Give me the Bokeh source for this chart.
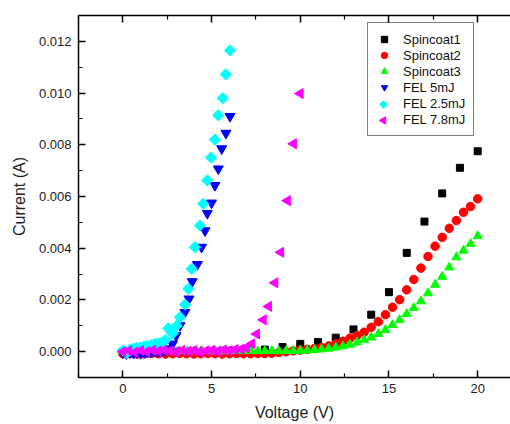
import math
from bokeh.plotting import figure
from bokeh.models import (LinearAxis, FixedTicker, PrintfTickFormatter, Range1d,
                          Legend, LegendItem)
from bokeh.embed import file_html
from bokeh.resources import INLINE

# ---- data ----
v_spin1 = [0, 1, 2, 3, 4, 5, 6, 7, 8, 9, 10, 11, 12, 13, 14, 15, 16, 17, 18, 19, 20]
i_spin1 = [0.0, 0.0, 0.0, 0.0, 0.0, 0.00001, 0.00002, 0.00004, 0.00008, 0.00018,
           0.00030, 0.00037, 0.00054, 0.00086, 0.00143, 0.00230, 0.00382, 0.00503,
           0.00612, 0.00711, 0.00775]

v_spin2 = [0.0, 0.4, 0.8, 1.2, 1.6, 2.0, 2.4, 2.8, 3.2, 3.6, 4.0, 4.4, 4.8, 5.2, 5.6,
           6.0, 6.4, 6.8, 7.2, 7.6, 8.0, 8.4, 8.8, 9.2, 9.6, 10.0, 10.4, 10.8, 11.2,
           11.6, 12.0, 12.4, 12.8, 13.2, 13.6, 14.0, 14.4, 14.8, 15.2, 15.6, 16.0,
           16.4, 16.8, 17.2, 17.6, 18.0, 18.4, 18.8, 19.2, 19.6, 20.0]
i_spin2 = [-0.00008, -0.00007, -0.00009, -0.00008, -0.00007, -0.00008, -0.00009,
           -0.00008, -0.00007, -0.00008, -0.00009, -0.00008, -0.00007, -0.00008,
           -0.00009, -0.00008, -0.00007, -0.00008, -0.00008, -0.00007, -0.00007,
           -0.00006, -0.00003, 0.0, 0.00003, 0.00006, 0.00009, 0.00012, 0.00016,
           0.00022, 0.00030, 0.00040, 0.00052, 0.00062, 0.00075, 0.00094, 0.00116,
           0.00143, 0.00172, 0.00201, 0.00239, 0.00279, 0.00323, 0.00368, 0.00408,
           0.00442, 0.00477, 0.00507, 0.00539, 0.00561, 0.00591]

v_spin3 = v_spin2
i_spin3 = [0.00002, 0.00001, 0.00002, 0.00003, 0.00002, 0.00001, 0.00002, 0.00003,
           0.00002, 0.00001, 0.00002, 0.00003, 0.00002, 0.00002, 0.00001, 0.00002,
           0.00003, 0.00002, 0.00003, 0.00002, 0.00003, 0.00003, 0.00002, 0.00003,
           0.00003, 0.00004, 0.00005, 0.00007, 0.00009, 0.00012, 0.00016, 0.00021,
           0.00027, 0.00036, 0.00045, 0.00055, 0.00069, 0.00084, 0.00103, 0.00123,
           0.00146, 0.00169, 0.00195, 0.00226, 0.00259, 0.00290, 0.00326, 0.00365,
           0.00391, 0.00417, 0.00447]

v_fel5 = [0.0, 0.2, 0.4, 0.6, 0.8, 1.0, 1.2, 1.4, 1.6, 1.8, 2.0, 2.2, 2.4, 2.6, 2.8,
          3.0, 3.22, 3.5, 3.73, 3.91, 4.2, 4.44, 4.63, 4.76, 5.0, 5.19, 5.38, 5.57,
          5.81, 6.04]
i_fel5 = [-0.00005, -0.00008, -0.00004, -0.00006, -0.00003, -0.00007, -0.00004,
          -0.00002, 0.0, 0.00001, 0.00002, 0.00003, 0.00005, 0.00012, 0.00030,
          0.00062, 0.00101, 0.00152, 0.00204, 0.00271, 0.00337, 0.00404, 0.00468,
          0.00535, 0.00575, 0.00643, 0.00707, 0.00785, 0.00845, 0.00910]

v_fel25 = [0.0, 0.2, 0.4, 0.6, 0.8, 1.0, 1.2, 1.4, 1.6, 1.8, 2.0, 2.2, 2.4, 2.56, 2.8,
           3.03, 3.22, 3.5, 3.69, 3.88, 4.06, 4.34, 4.53, 4.76, 4.97, 5.19, 5.38,
           5.63, 5.8, 6.04]
i_fel25 = [0.00005, -0.00005, 0.00008, 0.00012, 0.00015, 0.00016, 0.00020, 0.00022,
           0.00025, 0.00030, 0.00032, 0.00036, 0.00045, 0.00090, 0.00070, 0.00100,
           0.00133, 0.00182, 0.00243, 0.00320, 0.00404, 0.00488, 0.00572, 0.00662,
           0.00750, 0.00820, 0.00914, 0.00980, 0.01072, 0.01165]

v_fel78 = [0.0, 0.33, 0.67, 1.0, 1.33, 1.67, 2.0, 2.33, 2.67, 3.0, 3.33, 3.67, 4.0,
           4.33, 4.67, 5.0, 5.33, 5.67, 6.0, 6.33, 6.67, 6.95, 7.26, 7.54, 7.92,
           8.22, 8.57, 8.9, 9.28, 9.62, 10.0]
i_fel78 = [0.0, 0.00003, -0.00002, 0.00004, 0.0, 0.00005, 0.00002, 0.00006, 0.00003,
           0.0, 0.00005, 0.00002, 0.00004, 0.0, 0.00003, 0.00005, 0.00002, 0.00006,
           0.00004, 0.00008, 0.00010, 0.00015, 0.00030, 0.00068, 0.00123, 0.00175,
           0.00266, 0.00384, 0.00584, 0.00804, 0.00998]

series_labels = ["Spincoat1", "Spincoat2", "Spincoat3", "FEL 5mJ", "FEL 2.5mJ",
                 "FEL 7.8mJ"]

x_ticks = [0, 5, 10, 15, 20]
x_minor = [-2.5, 2.5, 7.5, 12.5, 17.5]
y_ticks = [0.0, 0.002, 0.004, 0.006, 0.008, 0.010, 0.012]
y_minor = [-0.001, 0.001, 0.003, 0.005, 0.007, 0.009, 0.011]

FONT = "Liberation Sans"

# layout constants
W, H = 510, 424
BL, BR, BT, BB = 78, 0, 15, 47
FW, FH = W - BL - BR, H - BT - BB

p = figure(width=W, height=H, output_backend="svg", toolbar_location=None,
           x_range=Range1d(-2.5, 21.85), y_range=Range1d(-0.001, 0.013),
           min_border_left=BL, min_border_right=BR, min_border_top=BT,
           min_border_bottom=BB, x_axis_label="Voltage (V)",
           y_axis_label="Current (A)")
p.outline_line_color = None
p.grid.visible = False
p.background_fill_color = "white"
p.border_fill_color = "white"
# pixel-space ranges for the legend key symbols
p.extra_x_ranges = {"px": Range1d(0, FW)}
p.extra_y_ranges = {"py": Range1d(0, FH)}

for ax in (p.xaxis[0], p.yaxis[0]):
    ax.axis_line_width = 1.5
    ax.major_tick_line_width = 1.5
    ax.minor_tick_line_width = 1.2
    ax.major_tick_in = 7
    ax.major_tick_out = 0
    ax.minor_tick_in = 4
    ax.minor_tick_out = 0
    ax.major_label_text_font = FONT
    ax.major_label_text_font_size = "13px"
    ax.major_label_text_color = "#222222"
    ax.axis_label_text_font = FONT
    ax.axis_label_text_font_size = "16px"
    ax.axis_label_text_font_style = "normal"
    ax.axis_label_text_color = "#222222"

p.xaxis[0].ticker = FixedTicker(ticks=x_ticks, minor_ticks=x_minor)
p.yaxis[0].ticker = FixedTicker(ticks=y_ticks, minor_ticks=y_minor)
p.yaxis[0].formatter = PrintfTickFormatter(format="%.3f")
p.xaxis[0].major_label_standoff = 6
p.xaxis[0].axis_label_standoff = 8
p.yaxis[0].major_label_standoff = 7
p.yaxis[0].axis_label_standoff = 8

top = LinearAxis(ticker=FixedTicker(ticks=x_ticks, minor_ticks=x_minor),
                 axis_line_width=1.5, major_tick_line_width=1.5,
                 minor_tick_line_width=1.2, major_tick_in=7, major_tick_out=0,
                 minor_tick_in=4, minor_tick_out=0,
                 major_label_text_font_size="1px", major_label_text_alpha=0,
                 major_label_standoff=0)
p.add_layout(top, "above")

r1 = p.scatter(v_spin1, i_spin1, marker="square", size=7, color="#000000")
r2 = p.scatter(v_spin2, i_spin2, marker="circle", size=8.5, color="#ff0000")
r3 = p.scatter(v_spin3, i_spin3, marker="triangle", size=9, color="#00ff00")
r4 = p.scatter(v_fel5, i_fel5, marker="inverted_triangle", size=10, color="#0000ff")
r5 = p.scatter(v_fel25, i_fel25, marker="square", angle=math.pi / 4, size=8,
               color="#00ffff")
r6 = p.scatter(v_fel78, i_fel78, marker="triangle", angle=math.pi / 2, size=10,
               color="#ff00ff")

# invisible stand-ins so the legend reserves the rows of the rotated markers
r5_key = p.scatter(v_fel25[:1], i_fel25[:1], marker="square", size=1, alpha=0)
r6_key = p.scatter(v_fel78[:1], i_fel78[:1], marker="square", size=1, alpha=0)

LEG_X, LEG_Y = 289, 241
PAD, ROW, GW = 8, 16, 16
n_items = len(series_labels)
legend = Legend(items=[
    LegendItem(label=lab, renderers=[r])
    for lab, r in zip(series_labels, [r1, r2, r3, r4, r5_key, r6_key])
], location=(LEG_X, LEG_Y))
legend.label_text_font = FONT
legend.label_text_font_size = "13px"
legend.label_text_color = "#111111"
legend.label_height = ROW
legend.glyph_height = ROW
legend.glyph_width = GW
legend.label_standoff = 11
legend.spacing = 0
legend.padding = PAD
legend.margin = 0
legend.border_line_color = "black"
legend.border_line_width = 1.5
legend.background_fill_alpha = 0
p.add_layout(legend, "center")

# rotated legend key symbols (Bokeh legends do not rotate markers)
leg_top = LEG_Y + 2 * PAD + n_items * ROW
key_x = LEG_X + PAD + GW / 2
def key_y(k):
    return leg_top - PAD - ROW * k - ROW / 2
p.scatter([key_x], [key_y(4)], x_range_name="px", y_range_name="py",
          marker="square", angle=math.pi / 4, size=5.5, color="#00ffff")
p.scatter([key_x], [key_y(5)], x_range_name="px", y_range_name="py",
          marker="triangle", angle=math.pi / 2, size=7.5, color="#ff00ff")

open("out.html", "w").write(file_html(p, INLINE))
